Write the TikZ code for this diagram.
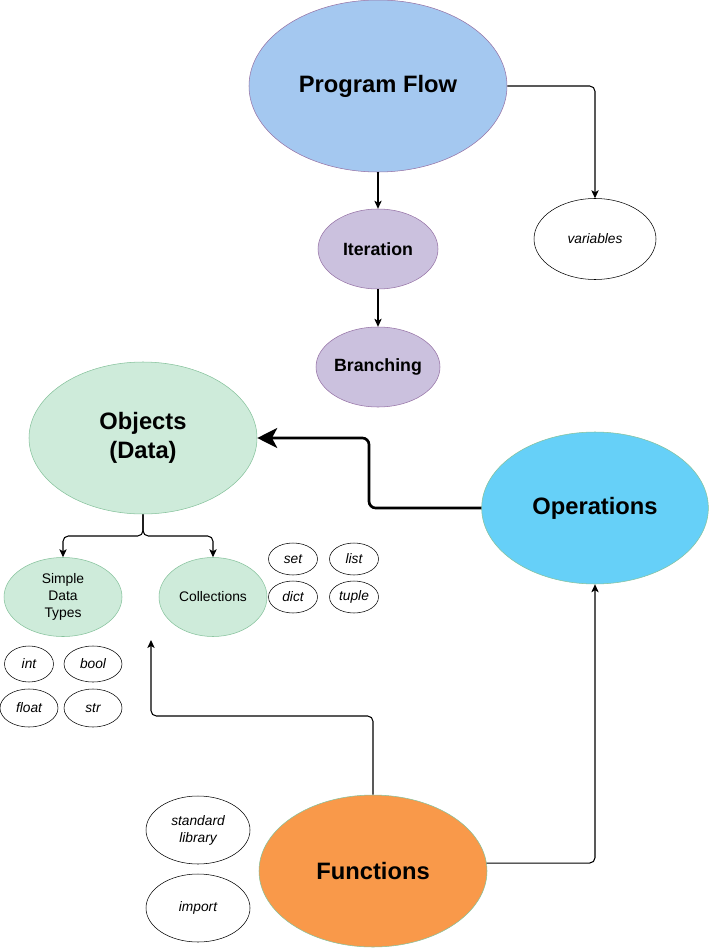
\documentclass[tikz,border=0pt]{standalone}
\usepackage{fontspec}
\setmainfont{Liberation Sans}
\usetikzlibrary{shapes.geometric,arrows.meta}

\definecolor{flowblue}{HTML}{A4C8F0}
\definecolor{flowline}{HTML}{9673A6}
\definecolor{loopviolet}{HTML}{CBC1DE}
\definecolor{datagreen}{HTML}{CEEBDA}
\definecolor{dataline}{HTML}{86C29C}
\definecolor{opcyan}{HTML}{66D0F8}
\definecolor{funorange}{HTML}{F9994A}

\begin{document}
\begin{tikzpicture}[
    x=0.75pt, y=-0.75pt,
    big/.style={ellipse, draw, inner sep=0pt, minimum width=171pt, minimum height=114pt, align=center, font=\fontsize{17.8}{21.5}\selectfont\bfseries},
    mid/.style={ellipse, draw=flowline, fill=loopviolet, inner sep=0pt, minimum width=90pt, minimum height=60pt, font=\fontsize{13.3}{16}\selectfont\bfseries},
    kind/.style={ellipse, draw=dataline, fill=datagreen, inner sep=0pt, minimum height=59.25pt, align=center, font=\fontsize{10.4}{12.75}\selectfont},
    word/.style={ellipse, draw, fill=white, inner sep=0pt, align=center, font=\fontsize{10.3}{12.75}\selectfont\itshape},
    link/.style={draw, line width=0.8pt, rounded corners=4pt, -{Stealth[length=6pt, width=5.5pt, inset=1.5pt]}}
]
\useasboundingbox (0,0) rectangle (709,948);

% Program flow
\node[big, draw=flowline, fill=flowblue, minimum width=193.5pt, minimum height=129pt] (flow) at (378,86) {Program Flow};
\node[mid] (iter) at (378,249) {Iteration};
\node[mid] (branch) at (378,367) {Branching};
\node[word, minimum width=91.5pt, minimum height=60.75pt] (var) at (595,239) {variables};

% Objects
\node[big, draw=dataline, fill=datagreen] (obj) at (143,438) {Objects\\(Data)};
\node[kind, minimum width=88.5pt] (simple) at (63,597) {Simple\\Data\\Types};
\node[kind, minimum width=81pt] (coll) at (213,597) {Collections};

% Collection kinds
\node[word, minimum width=36.75pt, minimum height=24pt] (set) at (293,559) {set};
\node[word, minimum width=36.75pt, minimum height=24pt] (list) at (354,559) {list};
\node[word, minimum width=36.75pt, minimum height=24pt] (dict) at (293,597) {dict};
\node[word, minimum width=36.75pt, minimum height=24pt] (tuple) at (354,597) {tuple};

% Simple types
\node[word, minimum width=36.75pt, minimum height=27pt] (int) at (29,664) {int};
\node[word, minimum width=43.5pt, minimum height=27pt] (bool) at (93,664) {bool};
\node[word, minimum width=43.5pt, minimum height=28.5pt] (float) at (29,708) {float};
\node[word, minimum width=43.5pt, minimum height=28.5pt] (str) at (93,708) {str};

% Operations and functions
\node[big, draw=dataline, fill=opcyan, minimum width=170pt] (ops) at (595,508) {Operations};
\node[big, draw=dataline, fill=funorange] (fun) at (373,871) {Functions};
\node[word, minimum width=78pt, minimum height=51pt] (stdlib) at (198,830) {standard\\library};
\node[word, minimum width=78pt, minimum height=51pt] (import) at (198,908) {import};

% Bends
\coordinate (objsplit) at (143,536);
\coordinate (opsbend) at (369,438);
\coordinate (funbend) at (151,716);
\coordinate (funend) at (151,640);

% Arrows
\draw[link] (flow) -- (iter);
\draw[link] (iter) -- (branch);
\draw[link] (flow.east) -| (var.north);
\draw[link] (obj.south) -- (objsplit) -| (simple.north);
\draw[link] (obj.south) -- (objsplit) -| (coll.north);
\draw[draw, line width=2pt, rounded corners=5pt, -{Stealth[length=15pt, width=15pt, inset=4pt]}] (ops.west) -| (opsbend) -- (obj.east);
\draw[link] (fun.north) |- (funbend) -- (funend);
\draw[link] (fun.4) -| (ops.south);

\end{tikzpicture}
\end{document}
